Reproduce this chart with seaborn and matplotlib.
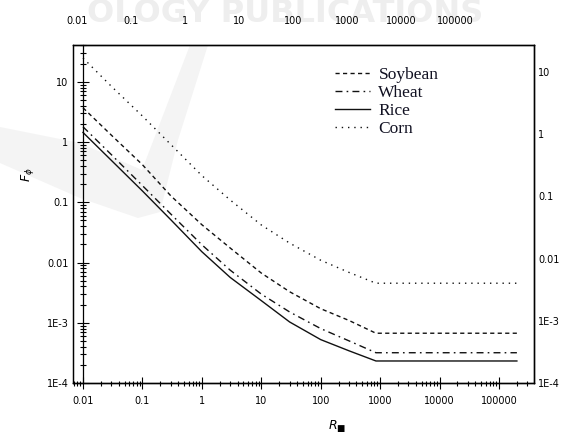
import numpy as np
import pandas as pd
import matplotlib
matplotlib.use("Agg")
import matplotlib.pyplot as plt
from matplotlib.patches import Polygon
from matplotlib.ticker import LogLocator, FuncFormatter, NullLocator, FixedLocator
import seaborn as sns

# Reduced parameter R* and the resulting F-phi for each crop
R = [0.01, 0.03, 0.1, 0.3, 1, 3, 10, 30, 100, 300, 850, 200000]
soybean = [3.7, 1.30, 0.42, 0.128, 0.0424, 0.0174, 0.00668, 0.00327, 0.00171, 0.00109, 0.00067, 0.00067]
wheat = [1.79, 0.617, 0.189, 0.0638, 0.0197, 0.00746, 0.00299, 0.00151, 0.00080, 0.00050, 0.000318, 0.000318]
rice = [1.44, 0.496, 0.154, 0.0513, 0.0151, 0.00565, 0.00233, 0.00103, 0.000525, 0.000342, 0.000232, 0.000232]
corn = [24.8, 8.4, 2.7, 0.91, 0.277, 0.109, 0.042, 0.021, 0.0109, 0.00684, 0.00453, 0.00453]

crops = ["Soybean", "Wheat", "Rice", "Corn"]
x_ticks = [0.01, 0.1, 1, 10, 100, 1000, 10000, 100000]
x_labels = ["0.01", "0.1", "1", "10", "100", "1000", "10000", "100000"]
y_ticks = [1e-4, 1e-3, 0.01, 0.1, 1, 10]
y_labels = ["1E-4", "1E-3", "0.01", "0.1", "1", "10"]

df = pd.concat([
    pd.DataFrame({"R": R, "F": vals, "crop": name})
    for name, vals in zip(crops, [soybean, wheat, rice, corn])
], ignore_index=True)

plt.rcParams["font.family"] = ["DejaVu Sans"]
plt.rcParams["axes.linewidth"] = 0.9
plt.rcParams["axes.edgecolor"] = "black"

W, H = 570, 437
fig = plt.figure(figsize=(W / 100, H / 100), dpi=100)


def fpx(x, y):
    """pixel position (from top-left) to figure fraction"""
    return (x / W, 1 - y / H)


# faint publisher banner and swoosh in the background
fig.text(0.5, 1 - 14 / H, "OLOGY PUBLICATIONS", color="#eeeeee", fontsize=23,
         fontweight="bold", ha="center", va="center", zorder=-2)
swoosh = [(0, 127), (80, 143), (142, 170), (190, 45), (208, 45), (178, 140),
          (160, 212), (138, 218), (80, 198), (0, 163)]
fig.patches.append(Polygon([fpx(*p) for p in swoosh], closed=True,
                           transform=fig.transFigure, facecolor="#f4f4f4",
                           edgecolor="none", zorder=-2))

ax = fig.add_axes([73 / W, 54 / H, 461 / W, 338 / H])
ax.patch.set_alpha(0)

dashes = {"Soybean": (3, 2.4), "Wheat": (5, 3, 1.2, 3), "Rice": "", "Corn": (1, 3.5)}
sns.lineplot(data=df, x="R", y="F", hue="crop", style="crop",
             hue_order=crops, style_order=crops,
             palette={c: "#111111" for c in crops}, dashes=dashes,
             linewidth=1.0, estimator=None, ax=ax)

ax.set_xscale("log")
ax.set_yscale("log")
ax.set_xlim(10 ** -2.168, 10 ** 5.589)
ax.set_ylim(1e-4, 10 ** 1.61)
ax.set_xlabel("")
ax.set_ylabel("")

# y axis drawn through R* = 0.01, x axis along the bottom
ax.spines["left"].set_position(("data", 0.01))
ax.spines["bottom"].set_position(("axes", 0))

ax.xaxis.set_major_locator(FixedLocator(x_ticks))
ax.xaxis.set_major_formatter(FuncFormatter(lambda v, p: x_labels[x_ticks.index(v)] if v in x_ticks else ""))
ax.xaxis.set_minor_locator(LogLocator(base=10, subs=np.arange(2, 10), numticks=100))
ax.yaxis.set_major_locator(FixedLocator(y_ticks))
ax.yaxis.set_major_formatter(FuncFormatter(lambda v, p: y_labels[y_ticks.index(v)] if v in y_ticks else ""))
ax.yaxis.set_minor_locator(LogLocator(base=10, subs=np.arange(2, 10), numticks=100))
ax.xaxis.set_minor_formatter(FuncFormatter(lambda v, p: ""))
ax.yaxis.set_minor_formatter(FuncFormatter(lambda v, p: ""))

ax.tick_params(axis="x", which="major", direction="inout", length=8.4, width=0.8, pad=5.5, labelsize=7, colors="black")
ax.tick_params(axis="x", which="minor", direction="inout", length=3.6, width=0.8)
ax.tick_params(axis="y", which="major", direction="inout", length=8.1, width=0.8, pad=6.5, labelsize=7, colors="black")
ax.tick_params(axis="y", which="minor", direction="inout", length=4.8, width=0.8)

# right-hand tick labels
ax2 = ax.twinx()
ax2.set_yscale("log")
ax2.set_ylim(1e-4, 10 ** 1.43)
ax2.yaxis.set_major_locator(FixedLocator(y_ticks))
ax2.yaxis.set_major_formatter(FuncFormatter(lambda v, p: y_labels[y_ticks.index(v)] if v in y_ticks else ""))
ax2.yaxis.set_minor_locator(NullLocator())
ax2.tick_params(axis="y", which="both", length=0, pad=3, labelsize=7)

# top tick labels
ax3 = ax.twiny()
ax3.set_xscale("log")
ax3.set_xlim(10 ** -2.074, 10 ** 6.46)
ax3.xaxis.set_major_locator(FixedLocator(x_ticks))
ax3.xaxis.set_major_formatter(FuncFormatter(lambda v, p: x_labels[x_ticks.index(v)] if v in x_ticks else ""))
ax3.xaxis.set_minor_locator(NullLocator())
ax3.tick_params(axis="x", which="both", length=0, pad=14, labelsize=7)

handles, labels = ax.get_legend_handles_labels()
if ax.get_legend() is not None:
    ax.get_legend().remove()
pairs = [(h, l) for h, l in zip(handles, labels) if l in crops]
leg = ax3.legend([p[0] for p in pairs], [p[1] for p in pairs],
                 loc="upper left", bbox_to_anchor=fpx(335, 67),
                 bbox_transform=fig.transFigure, frameon=False, borderpad=0,
                 borderaxespad=0, handlelength=2.0, handletextpad=0.5,
                 labelspacing=0.1, prop={"family": "Liberation Serif", "size": 12.5})
for t in leg.get_texts():
    t.set_color("#111122")

fig.text(*fpx(337, 426), r"$R_{\blacksquare}$", ha="center", va="center", fontsize=9)
fig.text(*fpx(27, 175), r"$F_{\phi}$", ha="center", va="center", fontsize=9, rotation=90)

fig.savefig("out.png", dpi=100)
